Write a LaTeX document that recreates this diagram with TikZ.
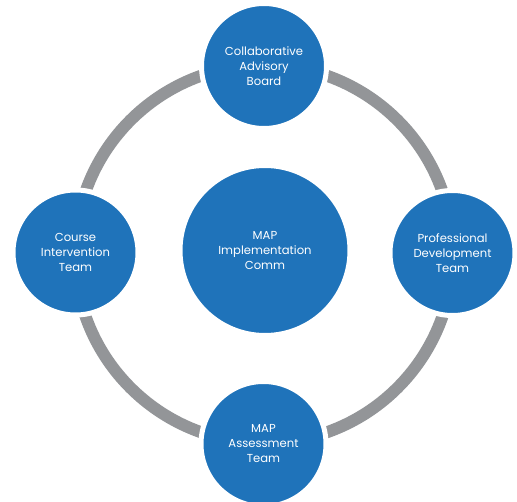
\documentclass[tikz,border=0pt]{standalone}
\usepackage{fontspec}
\setmainfont{Poppins}
\definecolor{hubblue}{HTML}{1F73BA}
\definecolor{ringgray}{HTML}{939598}
\begin{document}
\begin{tikzpicture}[x=1pt,y=1pt,
  team/.style={circle, fill=hubblue, draw=white, line width=5pt,
    minimum size=125pt, inner sep=0pt, text=white, align=center,
    font=\fontsize{11.6}{15}\selectfont},
  hub/.style={team, minimum size=170pt},
  ring/.style={draw=ringgray, line width=12pt}]
\useasboundingbox (0,0) rectangle (517,501);
% outer loop linking the four teams
\coordinate (c) at (264,247);
\draw[ring] (c) circle (189);
% central committee
\node[hub] (imp) at (265,250.5) {MAP\\Implementation\\Comm};
% the four teams around it
\node[team] (cab) at (264,435) {Collaborative\\Advisory\\Board};
\node[team] (cit) at (75.5,248.5) {Course\\Intervention\\Team};
\node[team] (pdt) at (452.5,248) {Professional\\Development\\Team};
\node[team] (mat) at (263.5,57) {MAP\\Assessment\\Team};
\end{tikzpicture}
\end{document}
